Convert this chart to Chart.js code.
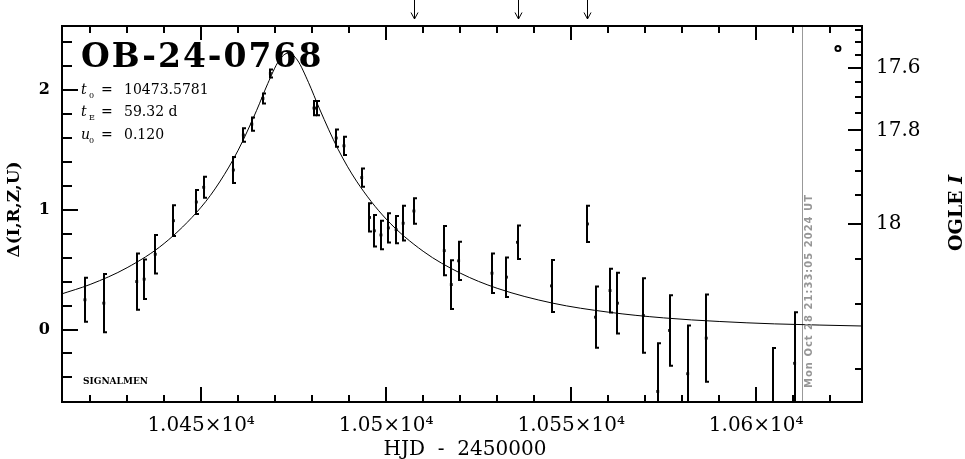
<!DOCTYPE html>
<html>
<head>
<meta charset="utf-8">
<script src="https://cdn.jsdelivr.net/npm/chart.js@4.4.1/dist/chart.umd.min.js"></script>
<style>
  html, body { margin: 0; padding: 0; background: #fff; }
  #wrap { width: 965px; height: 459px; }
</style>
</head>
<body>
<div id="wrap"><canvas id="lc"></canvas></div>
<script>
// OGLE photometry (HJD - 2450000, delta, error)
const hjd = [10418.6, 10423.7, 10432.6, 10434.6, 10437.6, 10442.5, 10448.7, 10450.7, 10458.7, 10461.4,
             10463.7, 10466.7, 10468.7, 10480.5, 10481.2, 10486.5, 10488.6, 10493.4, 10495.5, 10496.8,
             10498.6, 10500.6, 10502.7, 10504.6, 10507.5, 10515.7, 10517.6, 10519.6, 10528.6, 10532.5,
             10535.5, 10544.7, 10554.4, 10556.6, 10560.5, 10562.5, 10569.5, 10573.4, 10576.6, 10581.5,
             10586.5, 10604.5, 10610.4];
const delta = [0.248, 0.22, 0.40, 0.42, 0.628, 0.908, 1.064, 1.187, 1.331, 1.623,
               1.714, 1.928, 2.137, 1.848, 1.848, 1.598, 1.533, 1.268, 0.935, 0.824,
               0.789, 0.848, 0.833, 0.887, 0.989, 0.658, 0.375, 0.573, 0.47, 0.437,
               0.728, 0.364, 0.881, 0.103, 0.325, 0.22, 0.117, -0.517, -0.008, -0.369,
               -0.072, -0.62, -0.282];
const err = [0.183, 0.243, 0.235, 0.165, 0.16, 0.128, 0.101, 0.088, 0.108, 0.056,
             0.056, 0.042, 0.033, 0.06, 0.06, 0.072, 0.076, 0.076, 0.118, 0.132,
             0.119, 0.122, 0.114, 0.145, 0.107, 0.205, 0.203, 0.16, 0.165, 0.165,
             0.14, 0.217, 0.151, 0.255, 0.183, 0.253, 0.311, 0.403, 0.294, 0.403,
             0.364, 0.465, 0.425];

// model curve
const modelT = [10412, 10420, 10430, 10440, 10450, 10455, 10460, 10465, 10468, 10471,
                10473.6, 10476, 10479, 10482, 10487, 10492, 10500, 10510, 10520, 10530,
                10545, 10560, 10575, 10590, 10605, 10629];
const modelD = [0.294, 0.376, 0.516, 0.718, 1.021, 1.231, 1.496, 1.829, 2.052, 2.242,
                2.308, 2.249, 2.063, 1.841, 1.505, 1.238, 0.922, 0.653, 0.471, 0.344,
                0.220, 0.145, 0.097, 0.067, 0.047, 0.029];

const markT = [10622.1];
const markD = [2.345];
const arrowT = [10507.5, 10535.5, 10554.4];
const nowT = 10612.4;

const xTicks = [10450, 10500, 10550, 10600];
const xLabels = ['1.045\u00d710\u2074', '1.05\u00d710\u2074', '1.055\u00d710\u2074', '1.06\u00d710\u2074'];
const xMinor = [10420, 10430, 10440, 10460, 10470, 10480, 10490, 10510, 10520, 10530, 10540,
                10560, 10570, 10580, 10590, 10610, 10620];
const yTicks = [0, 1, 2];
const yLabels = ['0', '1', '2'];
const yMinor = [-0.4, -0.2, 0.2, 0.4, 0.6, 0.8, 1.2, 1.4, 1.6, 1.8, 2.2, 2.4];
const magTicks = [17.6, 17.8, 18];
const magLabels = ['17.6', '17.8', '18'];
const magMinor = [17.45, 17.5, 17.55, 17.65, 17.7, 17.75, 17.85, 17.9, 17.95, 18.05, 18.1, 18.15];

const X_MIN = 10412.4, X_MAX = 10628.6, Y_MIN = -0.605, Y_MAX = 2.533;

// OGLE I magnitude -> delta (blended source)
function magToDelta(m) {
  const f = Math.pow(10, -0.4 * (m - 18));
  return 2.5 * Math.log10((f - 0.80776) / 0.08539);
}

const decor = {
  id: 'decor',
  beforeDatasetsDraw(chart) {
    const { ctx, chartArea: a, scales: { x } } = chart;
    const px = Math.round(x.getPixelForValue(nowT)) + 0.5;
    ctx.save();
    ctx.strokeStyle = '#999';
    ctx.lineWidth = 1;
    ctx.beginPath();
    ctx.moveTo(px, a.top); ctx.lineTo(px, a.bottom);
    ctx.stroke();
    ctx.restore();
  },
  afterDatasetsDraw(chart) {
    const { ctx, chartArea: a, scales: { x, y } } = chart;
    ctx.save();
    ctx.beginPath();
    ctx.rect(a.left, a.top, a.right - a.left, a.bottom - a.top);
    ctx.clip();
    ctx.strokeStyle = '#000';
    ctx.lineWidth = 2;
    hjd.forEach((t, i) => {
      const px = Math.round(x.getPixelForValue(t));
      const lo = y.getPixelForValue(delta[i] - err[i]);
      const hi = y.getPixelForValue(delta[i] + err[i]);
      ctx.beginPath();
      ctx.moveTo(px, lo); ctx.lineTo(px, hi);
      ctx.moveTo(px - 1, lo); ctx.lineTo(px + 3, lo);
      ctx.moveTo(px - 1, hi); ctx.lineTo(px + 3, hi);
      ctx.stroke();
    });
    ctx.restore();
  },
  afterDraw(chart) {
    const { ctx, chartArea: a, scales: { x, y } } = chart;
    ctx.save();
    ctx.strokeStyle = '#000';
    ctx.fillStyle = '#000';
    ctx.lineWidth = 2;

    // frame
    ctx.strokeRect(a.left, a.top, a.right - a.left, a.bottom - a.top);

    // inward ticks
    ctx.beginPath();
    xMinor.forEach(t => {
      const px = Math.round(x.getPixelForValue(t));
      ctx.moveTo(px, a.bottom); ctx.lineTo(px, a.bottom - 7);
      ctx.moveTo(px, a.top); ctx.lineTo(px, a.top + 7);
    });
    xTicks.forEach(t => {
      const px = Math.round(x.getPixelForValue(t));
      ctx.moveTo(px, a.bottom); ctx.lineTo(px, a.bottom - 15);
      ctx.moveTo(px, a.top); ctx.lineTo(px, a.top + 14);
    });
    yMinor.forEach(v => {
      const py = Math.round(y.getPixelForValue(v));
      ctx.moveTo(a.left, py); ctx.lineTo(a.left + 10, py);
    });
    yTicks.forEach(v => {
      const py = Math.round(y.getPixelForValue(v));
      ctx.moveTo(a.left, py); ctx.lineTo(a.left + 16, py);
    });
    magMinor.forEach(m => {
      const py = Math.round(y.getPixelForValue(magToDelta(m)));
      ctx.moveTo(a.right, py); ctx.lineTo(a.right - 7, py);
    });
    magTicks.forEach(m => {
      const py = Math.round(y.getPixelForValue(magToDelta(m)));
      ctx.moveTo(a.right, py); ctx.lineTo(a.right - 14, py);
    });
    ctx.stroke();

    // arrows above the frame
    ctx.lineWidth = 1;
    arrowT.forEach(t => {
      const px = Math.round(x.getPixelForValue(t)) + 0.5;
      ctx.beginPath();
      ctx.moveTo(px, 0); ctx.lineTo(px, 19);
      ctx.moveTo(px - 3.5, 12.5); ctx.lineTo(px, 19); ctx.lineTo(px + 3.5, 12.5);
      ctx.stroke();
    });

    // title and parameters
    ctx.textBaseline = 'alphabetic';
    ctx.textAlign = 'left';
    ctx.font = 'bold 33px "DejaVu Serif"';
    ctx.letterSpacing = '2px';
    ctx.fillText('OB-24-0768', 81, 67);
    ctx.letterSpacing = '0px';

    const params = [['t', '0', '10473.5781', 93.5], ['t', 'E', '59.32 d', 115.5], ['u', '0', '0.120', 138.5]];
    params.forEach(p => {
      ctx.font = 'italic 14px "DejaVu Serif"';
      ctx.fillText(p[0], 81, p[3]);
      ctx.font = '8px "DejaVu Serif"';
      ctx.fillText(p[1], 89, p[3] + 4);
      ctx.font = '14px "DejaVu Serif"';
      ctx.fillText('=', 101, p[3]);
      ctx.fillText(p[2], 124, p[3]);
    });

    ctx.font = 'bold 9px "DejaVu Serif"';
    ctx.fillText('SIGNALMEN', 83, 384);

    // x axis title
    ctx.textAlign = 'center';
    ctx.font = '20px "DejaVu Serif"';
    ctx.fillText('HJD  -  2450000', 465, 455);

    // left axis title
    ctx.save();
    ctx.translate(19, 209.5);
    ctx.rotate(-Math.PI / 2);
    ctx.font = 'bold 17px "DejaVu Serif"';
    ctx.fillText('\u0394(I,R,Z,U)', 0, 0);
    ctx.restore();

    // right axis title
    ctx.save();
    ctx.translate(962, 213);
    ctx.rotate(-Math.PI / 2);
    ctx.textAlign = 'left';
    ctx.font = 'bold 19px "DejaVu Serif"';
    const w1 = ctx.measureText('OGLE ').width;
    ctx.font = 'bold italic 19px "DejaVu Serif"';
    const w2 = ctx.measureText('I').width;
    const x0 = -(w1 + w2) / 2;
    ctx.font = 'bold 19px "DejaVu Serif"';
    ctx.fillText('OGLE ', x0, 0);
    ctx.font = 'bold italic 19px "DejaVu Serif"';
    ctx.fillText('I', x0 + w1, 0);
    ctx.restore();

    // date stamp along the gray line
    ctx.save();
    ctx.translate(Math.round(x.getPixelForValue(nowT)) + 10, 388);
    ctx.rotate(-Math.PI / 2);
    ctx.textAlign = 'left';
    ctx.textBaseline = 'alphabetic';
    ctx.fillStyle = '#969696';
    ctx.letterSpacing = '1px';
    ctx.font = 'bold 10px "DejaVu Sans"';
    ctx.fillText('Mon Oct 28 21:33:05 2024 UT', 0, 0);
    ctx.restore();

    ctx.restore();
  }
};

new Chart(document.getElementById('lc'), {
  type: 'scatter',
  data: {
    datasets: [
      {
        type: 'line',
        data: modelT.map((t, i) => ({ x: t, y: modelD[i] })),
        borderColor: '#000',
        borderWidth: 1,
        pointRadius: 0,
        cubicInterpolationMode: 'monotone',
        fill: false
      },
      {
        data: hjd.map((t, i) => ({ x: t, y: delta[i] })),
        pointStyle: 'rect',
        pointRadius: 2,
        backgroundColor: '#000',
        borderWidth: 0
      },
      {
        data: markT.map((t, i) => ({ x: t, y: markD[i] })),
        pointStyle: 'circle',
        pointRadius: 2.5,
        borderWidth: 2,
        borderColor: '#000',
        backgroundColor: '#fff'
      }
    ]
  },
  options: {
    responsive: true,
    maintainAspectRatio: false,
    animation: false,
    events: [],
    layout: { padding: { top: 25, left: 0, right: 0, bottom: 0 } },
    plugins: { legend: { display: false }, tooltip: { enabled: false } },
    scales: {
      x: {
        type: 'linear', min: X_MIN, max: X_MAX,
        grid: { display: false, drawTicks: false },
        border: { display: false },
        afterBuildTicks: s => { s.ticks = xTicks.map(v => ({ value: v })); },
        ticks: {
          autoSkip: false, maxRotation: 0, padding: 12, color: '#000',
          font: { family: 'DejaVu Serif', size: 20 },
          callback: (v, i) => xLabels[i]
        },
        afterFit: s => { s.height = 57; }
      },
      y: {
        type: 'linear', position: 'left', min: Y_MIN, max: Y_MAX,
        grid: { display: false, drawTicks: false },
        border: { display: false },
        afterBuildTicks: s => { s.ticks = yTicks.map(v => ({ value: v })); },
        ticks: {
          autoSkip: false, padding: 12, color: '#000',
          font: { family: 'DejaVu Serif', size: 16, weight: 'bold' },
          callback: (v, i) => yLabels[i]
        },
        afterFit: s => { s.width = 62; }
      },
      y2: {
        type: 'linear', position: 'right', min: Y_MIN, max: Y_MAX,
        grid: { display: false, drawTicks: false },
        border: { display: false },
        afterBuildTicks: s => { s.ticks = magTicks.map(m => ({ value: magToDelta(m) })); },
        ticks: {
          autoSkip: false, padding: 14, color: '#000',
          font: { family: 'DejaVu Serif', size: 20 },
          callback: (v, i) => magLabels[i]
        },
        afterFit: s => { s.width = 103; }
      }
    }
  },
  plugins: [decor]
});
</script>
</body>
</html>
